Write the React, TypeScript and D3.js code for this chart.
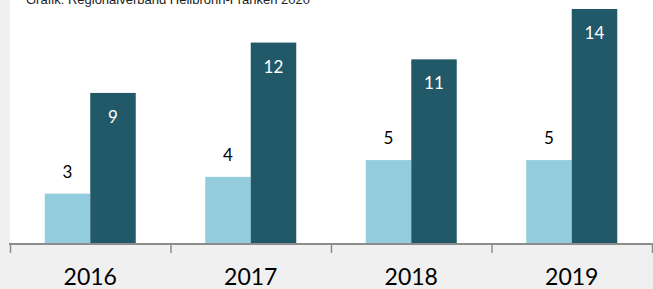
import { useEffect, useRef } from "react";
import * as d3 from "d3";

const years = ["2016", "2017", "2018", "2019"];
const seriesLight = [3, 4, 5, 5];
const seriesDark = [9, 12, 11, 14];
const caption = "Grafik: Regionalverband Heilbronn-Franken 2020";

const App = () => {
  const ref = useRef<SVGSVGElement | null>(null);

  useEffect(() => {
    const width = 653;
    const height = 289;
    const plotLeft = 10;
    const plotRight = 652;
    const baseY = 244;
    const lightColor = "#93cddd";
    const darkColor = "#215968";

    const svg = d3.select(ref.current);
    svg.selectAll("*").remove();
    svg.attr("width", width).attr("height", height).attr("viewBox", [0, 0, width, height]);

    // background
    svg.append("rect").attr("width", width).attr("height", height).attr("fill", "#f0f0f0");
    svg.append("rect")
      .attr("x", plotLeft)
      .attr("y", 0)
      .attr("width", width - plotLeft)
      .attr("height", baseY)
      .attr("fill", "#ffffff");

    const xScale = d3.scaleBand(years, [plotLeft, plotRight]).padding(0);
    const groupWidth = xScale.bandwidth() * 0.567;
    const sub = d3.scaleBand(["light", "dark"], [0, groupWidth]).padding(0);
    const yScale = d3.scaleLinear([0, 14], [baseY, 9]);

    const groups = svg.append("g")
      .selectAll("g")
      .data(years)
      .join("g")
      .attr("transform", (d) => `translate(${xScale(d)! + (xScale.bandwidth() - groupWidth) / 2},0)`);

    groups.append("rect")
      .attr("x", sub("light")!)
      .attr("y", (d, i) => yScale(seriesLight[i]))
      .attr("width", sub.bandwidth())
      .attr("height", (d, i) => yScale(0) - yScale(seriesLight[i]))
      .attr("fill", lightColor);

    groups.append("rect")
      .attr("x", sub("dark")!)
      .attr("y", (d, i) => yScale(seriesDark[i]))
      .attr("width", sub.bandwidth())
      .attr("height", (d, i) => yScale(0) - yScale(seriesDark[i]))
      .attr("fill", darkColor);

    groups.append("text")
      .attr("x", sub("light")! + sub.bandwidth() / 2)
      .attr("y", (d, i) => yScale(seriesLight[i]) - 16)
      .attr("text-anchor", "middle")
      .attr("font-family", "Lato, sans-serif")
      .attr("font-size", 17)
      .attr("fill", "#000000")
      .text((d, i) => seriesLight[i]);

    groups.append("text")
      .attr("x", sub("dark")! + sub.bandwidth() / 2)
      .attr("y", (d, i) => yScale(seriesDark[i]) + 30)
      .attr("text-anchor", "middle")
      .attr("font-family", "Lato, sans-serif")
      .attr("font-size", 17)
      .attr("fill", "#ffffff")
      .text((d, i) => seriesDark[i]);

    // x axis
    const xAxis = d3.axisBottom(xScale).tickSize(0).tickSizeOuter(0);
    const axisG = svg.append("g")
      .attr("transform", `translate(0,${baseY})`)
      .call(xAxis);
    axisG.select(".domain").remove();
    axisG.selectAll(".tick text")
      .attr("y", 41)
      .attr("dy", null)
      .attr("font-family", "Lato, sans-serif")
      .attr("font-size", 23)
      .attr("fill", "#000000");

    axisG.append("line")
      .attr("x1", plotLeft - 1)
      .attr("x2", width)
      .attr("y1", 0)
      .attr("y2", 0)
      .attr("stroke", "#8c8c8c")
      .attr("stroke-width", 2);

    const boundaries = years.map((d) => xScale(d)!).concat([plotRight]);
    axisG.selectAll(".sep")
      .data(boundaries)
      .join("line")
      .attr("class", "sep")
      .attr("x1", (d) => d + 0.5)
      .attr("x2", (d) => d + 0.5)
      .attr("y1", 0)
      .attr("y2", 9)
      .attr("stroke", "#8c8c8c")
      .attr("stroke-width", 1.5);

    // caption, cut off at the top as in the source image
    svg.append("text")
      .attr("x", 26)
      .attr("y", 4)
      .attr("font-family", "Liberation Sans, Arial, sans-serif")
      .attr("font-size", 13)
      .attr("fill", "#222222")
      .text(caption);
  }, []);

  return (
    <div style={{ position: "absolute", left: 0, top: 0 }}>
      <svg ref={ref} style={{ display: "block" }} />
    </div>
  );
};

export default App;
